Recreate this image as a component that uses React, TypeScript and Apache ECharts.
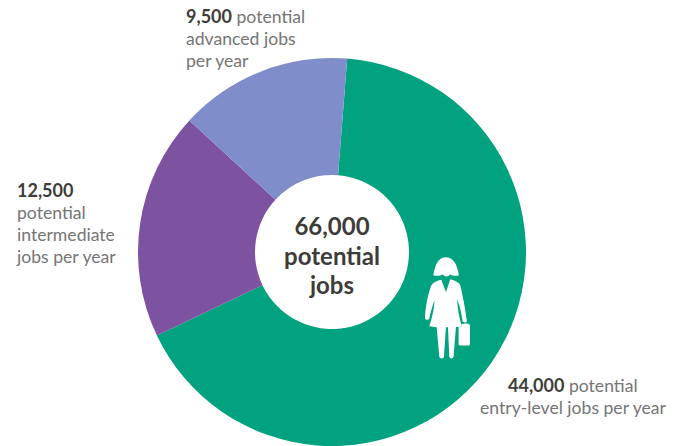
import React, { useEffect, useRef } from "react";
import * as echarts from "echarts";

const categories = ["entry-level", "intermediate", "advanced"];
const jobValues = [44000, 12500, 9500];
const sliceColors = ["#00A27F", "#7D52A0", "#7F8DCB"];
const centerLines = ["66,000", "potential", "jobs"];

// Silhouette of a woman carrying a briefcase, in a 3x local grid.
const womanPath =
  "M138 52 C116 52 106 72 100 106 C110 109 122 108 129 103 C133 112 146 112 150 103 C158 108 168 109 177 106 C171 72 160 52 138 52 Z " +
  "M124 119 L138 156 L151 118 C164 122 176 126 181 136 C188 165 196 205 201 245 C197 249 191 248 188 244 C184 215 178 195 172 178 " +
  "C172 205 178 235 186 259 L168 261 L161 350 C160 358 149 358 148 350 L144 262 L138 262 L132 350 C131 358 119 358 118 350 L110 262 L88 259 " +
  "C96 235 103 205 104 180 C98 198 91 218 88 236 C85 241 77 241 75 235 C76 200 85 160 94 136 C100 126 112 122 124 119 Z " +
  "M176 260 L186 260 L186 252 L200 250 L205 252 C208 252 210 254 210 258 L210 312 C210 315 208 317 205 317 L181 317 C178 317 176 315 176 312 Z";
echarts.graphic.registerShape("womanIcon", echarts.graphic.extendPath(womanPath, {}) as any);

const FONT = "Lato";
const GREY = "#757576";
const DARK = "#3E3C39";

function line(x: number, y: number, text: string) {
  return {
    type: "text",
    x,
    y,
    z: 10,
    style: {
      text,
      fontFamily: FONT,
      fontSize: 17.6,
      fill: GREY,
      rich: {
        b: { fontFamily: FONT, fontSize: 18, fontWeight: "bold", fill: DARK, color: DARK },
        r: { fontFamily: FONT, fontSize: 17.6, fill: GREY, color: GREY },
      },
      verticalAlign: "middle",
    },
  };
}

function centerLine(y: number, text: string) {
  return {
    type: "text",
    x: 332,
    y,
    z: 10,
    style: {
      text,
      fontFamily: FONT,
      fontSize: 24,
      fontWeight: "bold",
      fill: DARK,
      align: "center",
      verticalAlign: "middle",
    },
  };
}

export default function App() {
  const ref = useRef<HTMLDivElement>(null);

  useEffect(() => {
    const chart = echarts.init(ref.current!, null, { renderer: "svg" });
    chart.setOption({
      animation: false,
      backgroundColor: "#FFFFFF",
      series: [
        {
          type: "pie",
          center: [332, 252],
          radius: [77, 194],
          startAngle: 85.5,
          clockwise: true,
          silent: true,
          itemStyle: { borderWidth: 0 },
          label: { show: false },
          labelLine: { show: false },
          data: categories.map((name, i) => ({
            name,
            value: jobValues[i],
            itemStyle: { color: sliceColors[i] },
          })),
        },
      ],
      graphic: [
        line(186, 16, "{b|9,500} {r|potential}"),
        line(186, 38, "advanced jobs"),
        line(186, 60, "per year"),
        line(17, 190, "{b|12,500}"),
        line(17, 212, "potential"),
        line(17, 234, "intermediate"),
        line(17, 256, "jobs per year"),
        line(508, 385, "{b|44,000} {r|potential}"),
        line(480, 407, "entry-level jobs per year"),
        centerLine(225, centerLines[0]),
        centerLine(255, centerLines[1]),
        centerLine(284, centerLines[2]),
        {
          type: "womanIcon",
          x: 400,
          y: 240,
          z: 10,
          scaleX: 1 / 3,
          scaleY: 1 / 3,
          style: { fill: "#FFFFFF" },
        },
      ],
    });
    return () => chart.dispose();
  }, []);

  return (
    <div
      ref={ref}
      style={{ position: "fixed", left: 0, top: 0, width: 683, height: 446 }}
    />
  );
}
